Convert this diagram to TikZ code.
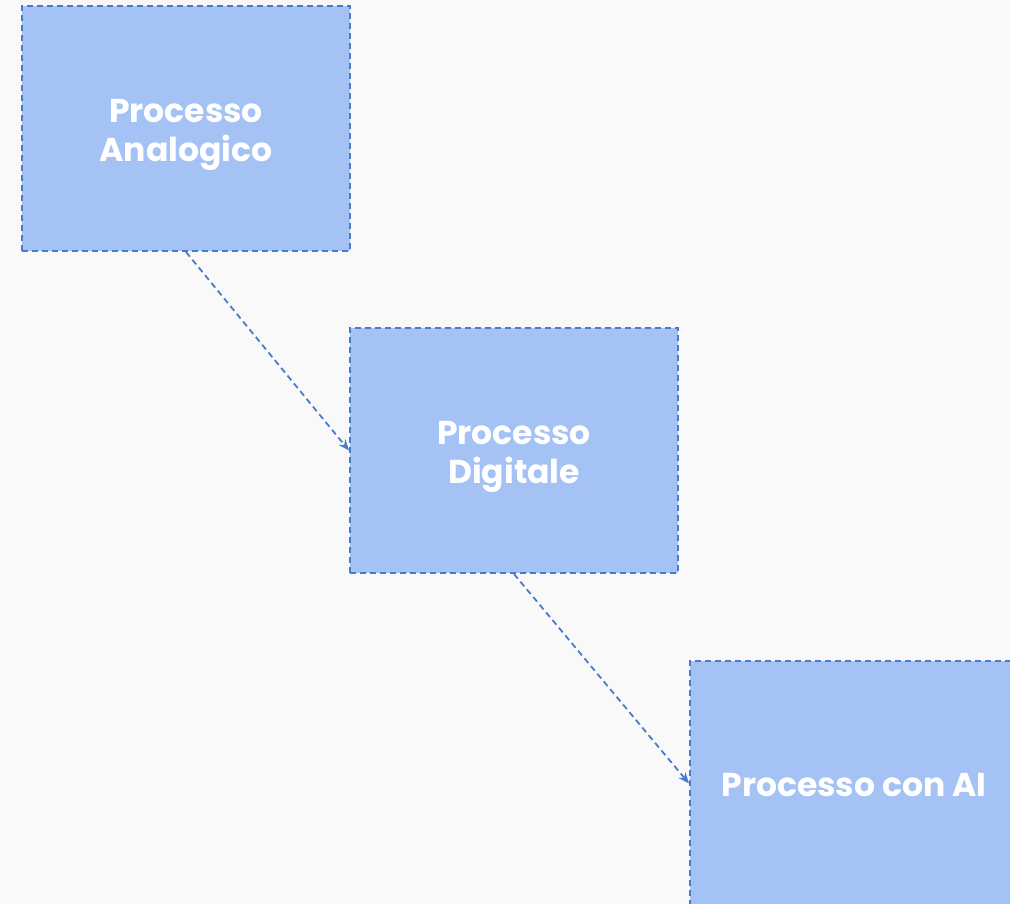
\documentclass[tikz,border=0pt]{standalone}
\usepackage{fontspec}
\setmainfont{Poppins}
\usetikzlibrary{arrows.meta}
\definecolor{bgc}{HTML}{F9F9F9}
\definecolor{boxfill}{HTML}{A4C2F4}
\definecolor{boxline}{HTML}{4A7BCB}
\tikzset{
  procbox/.style={draw=boxline, fill=boxfill, line width=2pt, dash pattern=on 6pt off 4pt,
    minimum width=328pt, minimum height=245pt, inner sep=0pt, align=center,
    text=white, font=\fontsize{33}{39}\selectfont\bfseries},
  conn/.style={draw=boxline, line width=1.8pt, dash pattern=on 6pt off 4pt,
    -{Stealth[length=11pt,width=9pt]}}
}
\begin{document}
\begin{tikzpicture}[x=1pt,y=-1pt]
\fill[bgc] (0,0) rectangle (1010,904);
\useasboundingbox (0,0) rectangle (1010,904);
\clip (0,0) rectangle (1010,904);
\node[procbox] (a) at (186,128.5) {};
\node[procbox] (b) at (514,450.5) {};
\node[procbox] (c) at (854,783.5) {};
\node[procbox, draw=none, fill=none, yshift=-6pt] (ta) at (a.center) {Processo\\Analogico};
\node[procbox, draw=none, fill=none, yshift=-6pt] (tb) at (b.center) {Processo\\Digitale};
\node[procbox, draw=none, fill=none, yshift=-2pt] (tc) at (c.center) {Processo con AI};
\draw[conn] (a.south) -- (b.west);
\draw[conn] (b.south) -- (c.west);
\end{tikzpicture}
\end{document}
